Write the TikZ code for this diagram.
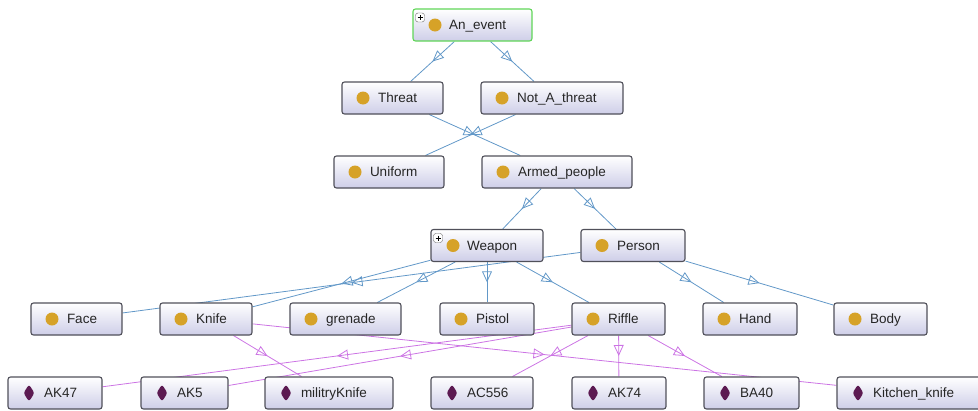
\documentclass[tikz,border=0pt]{standalone}
\usepackage{fontspec}
\setmainfont{Liberation Sans}
\usepackage{tikz}
\usetikzlibrary{arrows.meta,decorations.markings,backgrounds}
\usepackage{xcolor}
\definecolor{clsgold}{RGB}{214,162,40}
\definecolor{indplum}{RGB}{92,26,82}
\definecolor{boxgray}{RGB}{80,80,90}
\definecolor{boxlav}{RGB}{206,206,232}
\definecolor{selgreen}{RGB}{96,214,88}
\definecolor{subblue}{RGB}{98,152,200}
\definecolor{instpink}{RGB}{204,116,228}
\tikzstyle{box} = [draw=boxgray, line width=1.1pt, rounded corners=2.5pt, top color=white, bottom color=boxlav, minimum height=32pt, inner xsep=0pt, inner ysep=0pt, text height=11pt, text depth=1.3pt, align=left, font=\fontsize{13.5}{16}\selectfont, text=black!85, execute at begin node={\hspace*{36pt}}]
\tikzstyle{cls} = [box, path picture={\fill[clsgold] ([xshift=21pt]path picture bounding box.west) circle (6.5pt);}]
\tikzstyle{clsplus} = [box, path picture={
    \fill[clsgold] ([xshift=22pt]path picture bounding box.west) circle (6.5pt);
    \draw[black!60, fill=white, line width=0.4pt] ([xshift=2.5pt,yshift=-4pt]path picture bounding box.north west) rectangle ++(9pt,-9pt);
    \draw[black, line width=0.8pt] ([xshift=4.5pt,yshift=-8.5pt]path picture bounding box.north west) -- ++(5pt,0)
        ([xshift=7pt,yshift=-6pt]path picture bounding box.north west) -- ++(0,-5pt);}]
\tikzstyle{ind} = [box, path picture={\fill[indplum] ([xshift=21pt]path picture bounding box.west) +(0,8.5pt) -- +(5.5pt,0) -- +(0,-8.5pt) -- +(-5.5pt,0) -- cycle;}]
\tikzstyle{isa} = [color=subblue, line width=0.8pt, postaction={decorate}, decoration={markings, mark=at position 0.5 with {\arrow{Triangle[open, length=11pt, width=10pt]}}}]
\tikzstyle{inst} = [isa, color=instpink]

\begin{document}
\begin{tikzpicture}[x=1pt, y=-1pt]
\useasboundingbox (0,0) rectangle (978,410);

% Top classes
\node[clsplus, draw=selgreen, text width=119pt] (anevent) at (472.5,25) {An\_event};
\node[cls, text width=101pt] (threat) at (392.5,98) {Threat};
\node[cls, text width=142pt] (notthreat) at (552,98) {Not\_A\_threat};
\node[cls, text width=110pt] (uniform) at (389,172) {Uniform};
\node[cls, text width=150pt] (armed) at (557,172) {Armed\_people};
\node[clsplus, text width=112pt] (weapon) at (487,245.5) {Weapon};
\node[cls, text width=104pt] (person) at (633,245.5) {Person};

% Leaf classes
\node[cls, text width=91pt] (face) at (76.5,319) {Face};
\node[cls, text width=92pt] (knife) at (206,319) {Knife};
\node[cls, text width=111pt] (grenade) at (345.5,319) {grenade};
\node[cls, text width=94pt] (pistol) at (487,319) {Pistol};
\node[cls, text width=93pt] (riffle) at (618.5,319) {Riffle};
\node[cls, text width=94pt] (hand) at (750,319) {Hand};
\node[cls, text width=93pt] (body) at (880.5,319) {Body};

% Individuals
\node[ind, text width=94pt] (akfortyseven) at (55,393) {AK47};
\node[ind, text width=87pt] (akfive) at (184.5,393) {AK5};
\node[ind, text width=128pt] (milknife) at (329,393) {militryKnife};
\node[ind, text width=102pt] (acgun) at (482,393) {AC556};
\node[ind, text width=94pt] (akseventyfour) at (619,393) {AK74};
\node[ind, text width=95pt] (bafourty) at (751.5,393) {BA40};
\node[ind, text width=145pt] (kitchen) at (909.5,393) {Kitchen\_knife};

% Edges
\begin{scope}[on background layer]
\draw[isa] (anevent) -- (threat);
\draw[isa] (anevent) -- (notthreat);
\draw[isa] (threat) -- (armed);
\draw[isa] (notthreat) -- (uniform);
\draw[isa] (armed) -- (weapon);
\draw[isa] (armed) -- (person);
\draw[isa] (person) -- (face);
\draw[isa] (weapon) -- (knife);
\draw[isa] (weapon) -- (grenade);
\draw[isa] (weapon) -- (pistol);
\draw[isa] (weapon) -- (riffle);
\draw[isa] (person) -- (hand);
\draw[isa] (person) -- (body);

\draw[inst] (knife) -- (milknife);
\draw[inst] (knife) -- (kitchen);
\foreach \gun in {akfortyseven,akfive,acgun,akseventyfour,bafourty}
    \draw[inst] (riffle) -- (\gun);
\end{scope}
\end{tikzpicture}
\end{document}
